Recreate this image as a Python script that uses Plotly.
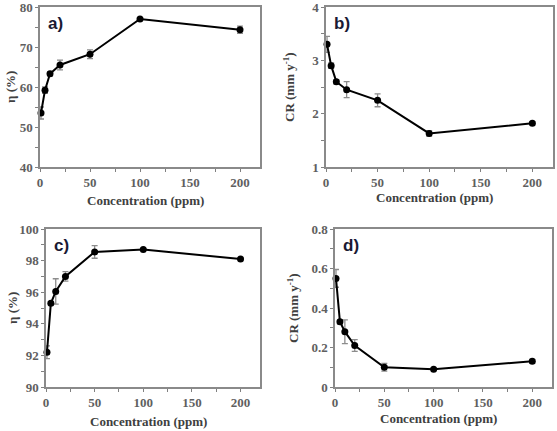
import plotly.graph_objects as go

conc = [1, 5, 10, 20, 50, 100, 200]

eta_a = [53.5, 59.2, 63.3, 65.5, 68.2, 77.0, 74.3]
err_a = [1.5, 0.8, 0.5, 1.2, 1.1, 0.3, 0.9]

cr_b = [3.30, 2.90, 2.60, 2.45, 2.25, 1.63, 1.82]
err_b = [0.15, 0.05, 0.04, 0.15, 0.12, 0.05, 0.03]

eta_c = [92.2, 95.3, 96.05, 97.0, 98.55, 98.7, 98.1]
err_c = [0.4, 0.1, 0.8, 0.3, 0.4, 0.05, 0.05]

cr_d = [0.55, 0.33, 0.28, 0.21, 0.10, 0.09, 0.13]
err_d = [0.045, 0.01, 0.06, 0.03, 0.02, 0.005, 0.01]

panels = [
    ("a)", eta_a, err_a, [40, 80], 10, "η (%)"),
    ("b)", cr_b, err_b, [1, 4], 1, "CR (mm y<sup>-1</sup>)"),
    ("c)", eta_c, err_c, [90, 100], 2, "η (%)"),
    ("d)", cr_d, err_d, [0, 0.8], 0.2, "CR (mm y<sup>-1</sup>)"),
]

W, H = 557, 431
# plot areas in pixels: (left, right, top, bottom)
boxes = [(40, 260, 7, 167), (326, 553, 7, 167), (46, 260, 229, 387), (335, 552, 229, 387)]
ytitle_x = [10, 289, 12, 293]
xtitle_y = [200, 198, 421, 418]

SERIF = "Liberation Serif"
fig = go.Figure()
tickfont = dict(family=SERIF, size=13, color="#5f5f5f", weight="bold")
titlefont = dict(family=SERIF, size=13, color="#404040", weight="bold")

for i, (lab, ys, es, yr, dt, ytitle) in enumerate(panels):
    n = i + 1
    xa = "x" if n == 1 else f"x{n}"
    ya = "y" if n == 1 else f"y{n}"
    fig.add_trace(go.Scatter(
        x=conc, y=ys, mode="lines+markers", xaxis=xa, yaxis=ya,
        line=dict(color="black", width=2),
        marker=dict(color="black", size=7),
        error_y=dict(type="data", array=es, color="#8c8c8c", thickness=1.3, width=3),
        showlegend=False, cliponaxis=False,
    ))
    l, r, t, b = boxes[i]
    axkey = "xaxis" if n == 1 else f"xaxis{n}"
    aykey = "yaxis" if n == 1 else f"yaxis{n}"
    fig.update_layout(**{
        axkey: dict(domain=[l / W, r / W], range=[0, 220], anchor=ya, automargin=False,
                    ticklabeloverflow="allow",
                    tickvals=[0, 50, 100, 150, 200], ticks="outside", ticklen=3,
                    tickcolor="#808080", minor=dict(tickvals=[25, 75, 125, 175], ticks="outside", ticklen=3, tickcolor="#808080"),
                    showline=True, linecolor="#8a8a8a", linewidth=1.5, mirror=True,
                    showgrid=False, zeroline=False, tickfont=tickfont),
        aykey: dict(domain=[1 - b / H, 1 - t / H], range=yr, anchor=xa, automargin=False,
                    ticklabeloverflow="allow",
                    dtick=dt, ticks="outside", ticklen=3, tickcolor="#808080",
                    minor=dict(dtick=dt / 2, ticks="outside", ticklen=3, tickcolor="#808080"),
                    showline=True, linecolor="#8a8a8a", linewidth=1.5, mirror=True,
                    showgrid=False, zeroline=False, tickfont=tickfont),
    })
    fig.add_annotation(text=f"<b>{lab}</b>", x=(l + 6) / W, y=1 - (t + 5) / H,
                       xref="paper", yref="paper", xanchor="left", yanchor="top",
                       showarrow=False, font=dict(family="Liberation Sans", size=17, color="#1a1a33"))
    fig.add_annotation(text=f"<b>{ytitle}</b>", x=ytitle_x[i] / W, y=1 - ((t + b) / 2) / H,
                       xref="paper", yref="paper", textangle=-90, showarrow=False,
                       xanchor="center", yanchor="middle", font=titlefont)
    fig.add_annotation(text="<b>Concentration (ppm)</b>", x=((l + r) / 2 - 5) / W, y=1 - xtitle_y[i] / H,
                       xref="paper", yref="paper", showarrow=False,
                       xanchor="center", yanchor="middle", font=titlefont)

fig.update_layout(width=W, height=H, margin=dict(l=0, r=0, t=0, b=0, autoexpand=False),
                  plot_bgcolor="white", paper_bgcolor="white")
fig.write_html("out.html", config={"displayModeBar": False},
               post_script="document.body.style.margin='0';document.body.style.overflow='hidden';")
